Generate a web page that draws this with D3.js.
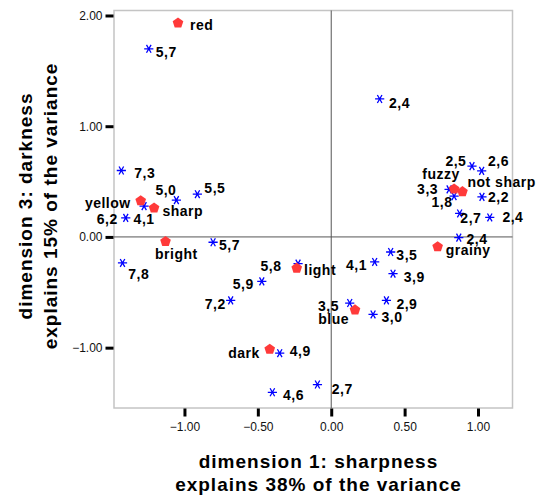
<!DOCTYPE html>
<html>
<head>
<meta charset="utf-8">
<script src="https://cdn.jsdelivr.net/npm/d3@7"></script>
<style>
  html, body { margin: 0; padding: 0; background: #fff; }
  svg { display: block; }
</style>
</head>
<body>
<script>
// ---------- data ----------
const xTicks = [-1.0, -0.5, 0.0, 0.5, 1.0];
const yTicks = [-1.0, 0.0, 1.0, 2.0];

const categoryLabels = ["red", "yellow", "sharp", "bright", "light", "dark", "blue", "grainy", "fuzzy", "not sharp"];
const categoryDim1 = [-1.044, -1.298, -1.207, -1.129, -0.235, -0.419, 0.162, 0.725, 0.837, 0.894];
const categoryDim3 = [1.937, 0.332, 0.266, -0.036, -0.277, -1.010, -0.654, -0.084, 0.438, 0.414];

const caseLabels = ["5,7", "7,3", "5,0", "5,5", "4,1", "6,2", "5,7", "7,8", "5,8", "5,9",
                    "7,2", "4,9", "4,6", "2,7", "4,1", "3,5", "3,9", "2,9", "3,5", "3,0",
                    "2,4", "2,4", "2,5", "2,6", "3,3", "1,8", "2,2", "2,7", "2,4"];
const caseDim1 = [-1.243, -1.430, -1.055, -0.912, -1.275, -1.400, -0.805, -1.422, -0.226, -0.473,
                  -0.685, -0.351, -0.401, -0.094, 0.296, 0.405, 0.421, 0.376, 0.126, 0.285,
                  0.869, 0.330, 0.959, 1.025, 0.803, 0.837, 1.027, 0.875, 1.080];
const caseDim3 = [1.699, 0.600, 0.332, 0.386, 0.278, 0.172, -0.048, -0.235, -0.241, -0.401,
                  -0.573, -1.050, -1.403, -1.333, -0.226, -0.136, -0.332, -0.573, -0.597, -0.700,
                  -0.006, 1.246, 0.640, 0.597, 0.429, 0.368, 0.362, 0.212, 0.176];

const xTitle = ["dimension 1: sharpness", "explains 38% of the variance"];
const yTitle = ["dimension 3: darkness", "explains 15% of the variance"];

// ---------- layout (label placement relative to each marker) ----------
const categoryLabelPlace = [[12, 8, "start"], [-10, 8, "end"], [8.4, 8.4, "start"], [-10.5, 18.5, "start"],
  [7.3, 7.7, "start"], [-10, 9, "end"], [-6, 14.3, "end"], [8, 9, "start"], [5.7, -9, "end"], [5, -4.3, "start"]];
const caseLabelPlace = [[7, 8, "start"], [13, 8, "start"], [0, -5, "end"], [7, -0.7, "start"], [0, 18, "middle"],
  [-8, 6.3, "end"], [6, 8, "start"], [5.7, 15.6, "start"], [-16.6, 7.4, "end"], [-8, 7.3, "end"],
  [-5, 8.3, "end"], [10, 3.3, "start"], [10.6, 7.6, "start"], [14.4, 9.3, "start"], [-7.7, 7.6, "end"],
  [5.7, 7.6, "start"], [10.7, 8.4, "start"], [10, 9, "start"], [-10.7, 8.3, "end"], [8.4, 7.7, "start"],
  [7.7, 6.7, "start"], [9.3, 9.3, "start"], [-5.6, 0, "end"], [6.3, -5, "start"], [-11, 4.7, "end"],
  [-1.6, 10.7, "end"], [6, 5, "start"], [0.7, 9.4, "start"], [12.7, 4.4, "start"]];

// ---------- drawing ----------
const W = 537, H = 497;
const plot = { left: 114, right: 512.5, top: 10.5, bottom: 408 };

const svg = d3.select("body").append("svg").attr("width", W).attr("height", H);
svg.append("rect").attr("width", W).attr("height", H).attr("fill", "#fff");

const x = d3.scaleLinear().domain([-1.48, 1.235]).range([plot.left, plot.right]);
const y = d3.scaleLinear().domain([-1.545, 2.045]).range([plot.bottom, plot.top]);

// frame
svg.append("rect")
  .attr("x", plot.left).attr("y", plot.top)
  .attr("width", plot.right - plot.left).attr("height", plot.bottom - plot.top)
  .attr("fill", "none").attr("stroke", "#c4c4c4").attr("stroke-width", 1.5);

// reference lines
svg.append("line").attr("x1", x(0)).attr("x2", x(0)).attr("y1", plot.top).attr("y2", plot.bottom)
  .attr("stroke", "#555").attr("stroke-width", 1);
svg.append("line").attr("x1", plot.left).attr("x2", plot.right).attr("y1", y(0)).attr("y2", y(0))
  .attr("stroke", "#555").attr("stroke-width", 1);

// axes
const fmt = d3.format(".2f");
const xAxis = svg.append("g").attr("transform", `translate(0,${plot.bottom + 0.5})`)
  .call(d3.axisBottom(x).tickValues(xTicks).tickFormat(fmt).tickSize(8).tickPadding(6));
const yAxis = svg.append("g").attr("transform", `translate(${plot.left - 0.5},0)`)
  .call(d3.axisLeft(y).tickValues(yTicks).tickFormat(fmt).tickSize(8).tickPadding(3));
[xAxis, yAxis].forEach(g => {
  g.select(".domain").remove();
  g.selectAll(".tick line").attr("stroke", "#000").attr("stroke-width", 3);
  g.selectAll(".tick text").attr("fill", "#111")
    .style("font-family", "'Liberation Sans', Arial, sans-serif").style("font-size", "12px");
});

// markers
const asteriskPath = (r) => {
  let p = "";
  [0, 60, 120].forEach(a => {
    const t = a * Math.PI / 180;
    p += `M${-r * Math.cos(t)},${-r * Math.sin(t)}L${r * Math.cos(t)},${r * Math.sin(t)}`;
  });
  return p;
};
const pentagonPath = (r) => {
  const pts = d3.range(5).map(i => {
    const t = -Math.PI / 2 + i * 2 * Math.PI / 5;
    return [r * Math.cos(t), r * Math.sin(t) + r * 0.1];
  });
  return "M" + pts.map(p => p.join(",")).join("L") + "Z";
};

svg.append("g").selectAll("path").data(caseLabels).join("path")
  .attr("transform", (d, i) => `translate(${x(caseDim1[i])},${y(caseDim3[i])})`)
  .attr("d", asteriskPath(4.6))
  .attr("stroke", "#0000ff").attr("stroke-width", 1.3).attr("fill", "none");

svg.append("g").selectAll("path").data(categoryLabels).join("path")
  .attr("transform", (d, i) => `translate(${x(categoryDim1[i])},${y(categoryDim3[i])})`)
  .attr("d", pentagonPath(5.6))
  .attr("fill", "#ff3a3a").attr("stroke", "none");

// point labels
const labelFont = g => g.style("font-family", "'Liberation Sans', Arial, sans-serif")
  .style("font-size", "14px").style("font-weight", "bold").style("letter-spacing", "0.5px").attr("fill", "#000");

svg.append("g").call(labelFont).selectAll("text").data(caseLabels).join("text")
  .attr("x", (d, i) => x(caseDim1[i]) + caseLabelPlace[i][0])
  .attr("y", (d, i) => y(caseDim3[i]) + caseLabelPlace[i][1])
  .attr("text-anchor", (d, i) => caseLabelPlace[i][2])
  .text(d => d);

svg.append("g").call(labelFont).selectAll("text").data(categoryLabels).join("text")
  .attr("x", (d, i) => x(categoryDim1[i]) + categoryLabelPlace[i][0])
  .attr("y", (d, i) => y(categoryDim3[i]) + categoryLabelPlace[i][1])
  .attr("text-anchor", (d, i) => categoryLabelPlace[i][2])
  .text(d => d);

// axis titles
const titleFont = g => g.style("font-family", "'Liberation Sans', Arial, sans-serif")
  .style("font-size", "19px").style("font-weight", "bold").style("letter-spacing", "1px")
  .attr("fill", "#000").attr("text-anchor", "middle");

const xt = svg.append("g").call(titleFont);
xTitle.forEach((t, i) => {
  xt.append("text").attr("x", 318.5).attr("y", 468 + i * 22.5).text(t);
});
const yt = svg.append("g").call(titleFont);
yTitle.forEach((t, i) => {
  yt.append("text").attr("transform", `translate(${32 + i * 25},206) rotate(-90)`).text(t);
});
</script>
</body>
</html>
